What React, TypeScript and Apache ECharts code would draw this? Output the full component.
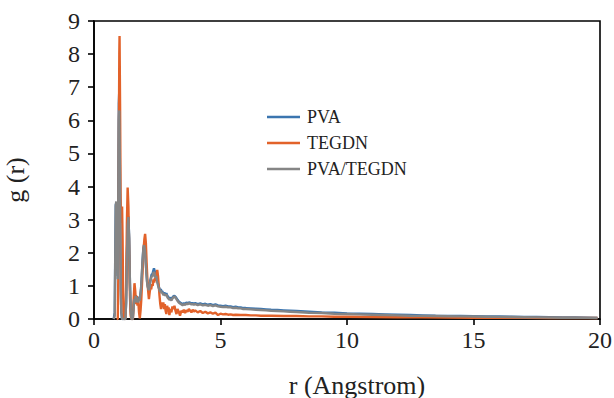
import React, { useEffect, useRef } from "react";
import * as echarts from "echarts";

const xTicks = [0, 5, 10, 15, 20];
const yTicks = [0, 1, 2, 3, 4, 5, 6, 7, 8, 9];
const seriesNames = ["PVA", "TEGDN", "PVA/TEGDN"];

const pvaData: [number, number][] = [
  [0.78,0],[0.82,0.2],[0.84,2.0],[0.86,3.45],[0.88,3.5],[0.90,3.2],[0.92,1.8],[0.94,1.3],[0.96,4.0],[0.98,6.5],[1.00,6.9],[1.02,5.0],[1.04,2.7],[1.06,0.9],[1.08,0.2],[1.11,0],[1.24,0],[1.27,0.5],[1.30,1.9],[1.33,2.85],[1.36,3.1],[1.39,2.45],[1.42,1.1],[1.45,0.3],[1.48,0],[1.53,0],[1.56,0.35],[1.59,0.62],[1.62,0.58],[1.65,0.72],[1.68,0.55],[1.71,0.68],[1.74,0.52],[1.77,0.64],[1.80,0.58],[1.83,0.72],[1.86,0.92],[1.89,1.32],[1.92,1.78],[1.95,2.12],[1.98,2.25],[2.01,2.12],[2.04,1.82],[2.07,1.42],[2.10,1.12],[2.13,0.98],[2.16,0.9],[2.19,1.0],[2.22,1.15],[2.25,1.25],[2.28,1.35],[2.31,1.35],[2.34,1.45],[2.37,1.53],[2.40,1.45],[2.43,1.3],[2.46,1.34],[2.49,1.2],[2.52,1.1],[2.55,1.0],[2.58,0.94],[2.61,0.86],[2.64,0.9],[2.67,0.82],[2.70,0.84],[2.74,0.76],[2.78,0.8],[2.82,0.74],[2.86,0.78],[2.90,0.7],[2.94,0.66],[2.98,0.62],[3.02,0.64],[3.06,0.6],[3.10,0.65],[3.14,0.69],[3.18,0.7],[3.22,0.67],[3.26,0.63],[3.30,0.58],[3.35,0.53],[3.40,0.5],[3.45,0.47],[3.50,0.45],[3.55,0.47],[3.60,0.46],[3.65,0.49],[3.70,0.48],[3.75,0.5],[3.80,0.49],[3.85,0.47],[3.90,0.48],[3.95,0.46],[4.0,0.48],[4.1,0.45],[4.2,0.47],[4.3,0.44],[4.4,0.46],[4.5,0.43],[4.6,0.45],[4.7,0.42],[4.8,0.44],[4.9,0.41],[5.0,0.4],[5.1,0.39],[5.2,0.4],[5.3,0.38],[5.4,0.38],[5.5,0.36],[5.6,0.37],[5.7,0.35],[5.8,0.35],[5.9,0.33],[6.0,0.33],[6.2,0.32],[6.4,0.31],[6.6,0.3],[6.8,0.29],[7.0,0.28],[7.25,0.27],[7.5,0.26],[7.75,0.25],[8.0,0.24],[8.5,0.22],[9.0,0.2],[9.5,0.19],[10.0,0.17],[10.5,0.16],[11,0.15],[11.5,0.14],[12,0.13],[12.5,0.12],[13,0.11],[13.5,0.1],[14,0.095],[14.5,0.09],[15,0.085],[15.5,0.08],[16,0.075],[16.5,0.07],[17,0.065],[17.5,0.06],[18,0.055],[18.5,0.05],[19,0.045],[19.5,0.04],[19.9,0.035]
];

const tegdnData: [number, number][] = [
  [0.90,0],[0.94,0],[0.96,1.2],[0.98,5.0],[1.00,8.0],[1.01,8.55],[1.03,6.5],[1.05,3.8],[1.07,2.9],[1.09,3.3],[1.11,3.4],[1.13,2.4],[1.15,0.8],[1.17,0.1],[1.19,0],[1.24,0],[1.27,1.0],[1.30,2.9],[1.33,3.97],[1.36,3.4],[1.39,2.0],[1.42,0.7],[1.45,0.1],[1.48,0],[1.54,0],[1.57,0.6],[1.60,1.08],[1.63,0.85],[1.66,0.45],[1.69,0.7],[1.72,0.4],[1.75,0.55],[1.78,0.2],[1.81,0.02],[1.84,0.25],[1.87,0.6],[1.90,1.1],[1.93,1.6],[1.96,2.1],[1.99,2.4],[2.02,2.57],[2.05,2.3],[2.08,1.7],[2.11,1.2],[2.14,0.85],[2.17,0.6],[2.20,0.8],[2.23,0.95],[2.26,0.9],[2.29,1.05],[2.32,1.0],[2.35,1.2],[2.38,1.1],[2.41,1.25],[2.44,1.15],[2.47,1.35],[2.50,1.48],[2.53,1.3],[2.56,1.0],[2.59,0.7],[2.62,0.45],[2.65,0.3],[2.68,0.5],[2.71,0.35],[2.74,0.5],[2.77,0.3],[2.80,0.45],[2.83,0.25],[2.86,0.15],[2.89,0.4],[2.92,0.28],[2.95,0.35],[2.98,0.12],[3.02,0.3],[3.06,0.2],[3.10,0.38],[3.14,0.3],[3.18,0.4],[3.22,0.25],[3.26,0.15],[3.30,0.3],[3.35,0.22],[3.40,0.1],[3.45,0.25],[3.50,0.2],[3.55,0.28],[3.60,0.18],[3.65,0.26],[3.70,0.22],[3.75,0.3],[3.80,0.25],[3.85,0.2],[3.90,0.28],[3.95,0.22],[4.0,0.26],[4.1,0.2],[4.2,0.24],[4.3,0.18],[4.4,0.22],[4.5,0.17],[4.6,0.2],[4.7,0.16],[4.8,0.19],[4.9,0.12],[5.0,0.16],[5.1,0.14],[5.2,0.15],[5.3,0.13],[5.4,0.14],[5.5,0.12],[5.6,0.13],[5.8,0.12],[6.0,0.12],[6.2,0.11],[6.4,0.11],[6.6,0.1],[6.8,0.1],[7.0,0.1],[7.5,0.09],[8.0,0.09],[8.5,0.08],[9,0.08],[9.5,0.07],[10,0.07],[11,0.06],[12,0.055],[13,0.05],[14,0.045],[15,0.04],[16,0.04],[17,0.035],[18,0.03],[19,0.03],[19.9,0.03]
];

const blendData: [number, number][] = [
  [0.78,0],[0.82,0.1],[0.84,1.8],[0.86,3.4],[0.88,3.55],[0.90,3.3],[0.92,2.0],[0.94,1.2],[0.96,3.5],[0.98,6.0],[1.00,6.3],[1.02,4.8],[1.04,2.6],[1.06,0.9],[1.08,0.2],[1.11,0],[1.24,0],[1.27,0.5],[1.30,1.8],[1.33,2.8],[1.36,3.08],[1.39,2.4],[1.42,1.1],[1.45,0.3],[1.48,0],[1.53,0],[1.56,0.3],[1.59,0.6],[1.62,0.55],[1.65,0.7],[1.68,0.5],[1.71,0.65],[1.74,0.5],[1.77,0.6],[1.80,0.55],[1.83,0.7],[1.86,0.9],[1.89,1.3],[1.92,1.75],[1.95,2.1],[1.98,2.23],[2.01,2.1],[2.04,1.8],[2.07,1.4],[2.10,1.1],[2.13,0.95],[2.16,0.87],[2.19,0.95],[2.22,1.1],[2.25,1.2],[2.28,1.3],[2.31,1.28],[2.34,1.38],[2.37,1.42],[2.40,1.35],[2.43,1.25],[2.46,1.3],[2.49,1.15],[2.52,1.05],[2.55,0.95],[2.58,0.9],[2.61,0.82],[2.64,0.86],[2.67,0.78],[2.70,0.8],[2.74,0.72],[2.78,0.76],[2.82,0.7],[2.86,0.74],[2.90,0.66],[2.94,0.62],[2.98,0.58],[3.02,0.6],[3.06,0.56],[3.10,0.62],[3.14,0.66],[3.18,0.68],[3.22,0.64],[3.26,0.6],[3.30,0.55],[3.35,0.5],[3.40,0.47],[3.45,0.44],[3.50,0.42],[3.55,0.44],[3.60,0.43],[3.65,0.46],[3.70,0.45],[3.75,0.47],[3.80,0.46],[3.85,0.44],[3.90,0.45],[3.95,0.43],[4.00,0.45],[4.1,0.42],[4.2,0.44],[4.3,0.41],[4.4,0.43],[4.5,0.40],[4.6,0.42],[4.7,0.39],[4.8,0.41],[4.9,0.38],[5.0,0.37],[5.1,0.36],[5.2,0.37],[5.3,0.35],[5.4,0.35],[5.5,0.33],[5.6,0.34],[5.7,0.32],[5.8,0.32],[5.9,0.3],[6.0,0.3],[6.2,0.29],[6.4,0.28],[6.6,0.27],[6.8,0.26],[7.0,0.25],[7.25,0.24],[7.5,0.23],[7.75,0.22],[8.0,0.21],[8.5,0.19],[9.0,0.18],[9.5,0.16],[10.0,0.15],[10.5,0.14],[11,0.13],[11.5,0.12],[12,0.11],[12.5,0.1],[13,0.095],[13.5,0.09],[14,0.085],[14.5,0.08],[15,0.075],[15.5,0.07],[16,0.065],[16.5,0.06],[17,0.055],[17.5,0.05],[18,0.045],[18.5,0.04],[19,0.04],[19.5,0.035],[19.9,0.03]
];

const colors = ["#3b75af", "#e2622a", "#858585"];
const FONT = "Liberation Serif";

export default function App() {
  const ref = useRef<HTMLDivElement>(null);
  useEffect(() => {
    if (!ref.current) return;
    const chart = echarts.init(ref.current, undefined, { renderer: "svg" });
    const datasets = [pvaData, tegdnData, blendData];
    chart.setOption({
      animation: false,
      backgroundColor: "#ffffff",
      textStyle: { fontFamily: FONT },
      grid: {
        left: 94,
        right: 14,
        top: 21,
        bottom: 79,
        outerBoundsMode: "none",
        containLabel: false,
        show: true,
        borderColor: "#000",
        borderWidth: 1.6,
        backgroundColor: "transparent",
      },
      legend: {
        data: seriesNames.map((n) => ({ name: n, icon: "rect" })),
        orient: "vertical",
        left: 262,
        top: 103,
        itemWidth: 33,
        itemHeight: 2.5,
        itemGap: 8,
        textStyle: { fontFamily: FONT, fontSize: 18, color: "#222", padding: [0, 0, 0, 2] },
      },
      xAxis: {
        type: "value",
        min: xTicks[0],
        max: xTicks[xTicks.length - 1],
        interval: 5,
        name: "r (Angstrom)",
        nameLocation: "middle",
        nameGap: 53,
        nameTextStyle: { fontFamily: FONT, fontSize: 26, color: "#222", padding: [0, 0, 0, 20] },
        axisLine: { show: true, lineStyle: { color: "#000", width: 1.6 } },
        axisTick: { show: true, inside: false, length: 6, lineStyle: { color: "#000", width: 1.6 } },
        axisLabel: { fontFamily: FONT, fontSize: 24, color: "#222", margin: 9 },
        splitLine: { show: false },
      },
      yAxis: {
        type: "value",
        min: yTicks[0],
        max: yTicks[yTicks.length - 1],
        interval: 1,
        name: "g (r)",
        nameLocation: "middle",
        nameGap: 66,
        nameTextStyle: { fontFamily: FONT, fontSize: 26, color: "#222", padding: [0, 20, 0, 0] },
        axisLine: { show: true, lineStyle: { color: "#000", width: 1.6 } },
        axisTick: { show: true, inside: false, length: 6, lineStyle: { color: "#000", width: 1.6 } },
        axisLabel: { fontFamily: FONT, fontSize: 24, color: "#222", margin: 14 },
        splitLine: { show: false },
      },
      series: seriesNames.map((name, i) => ({
        name,
        type: "line",
        data: datasets[i],
        symbol: "none",
        showSymbol: false,
        lineStyle: { color: colors[i], width: 2.4 },
        itemStyle: { color: colors[i] },
        emphasis: { disabled: true },
      })),
    });
    return () => chart.dispose();
  }, []);
  return (
    <div
      ref={ref}
      style={{ position: "fixed", left: 0, top: 0, width: 614, height: 398, background: "#fff" }}
    />
  );
}
